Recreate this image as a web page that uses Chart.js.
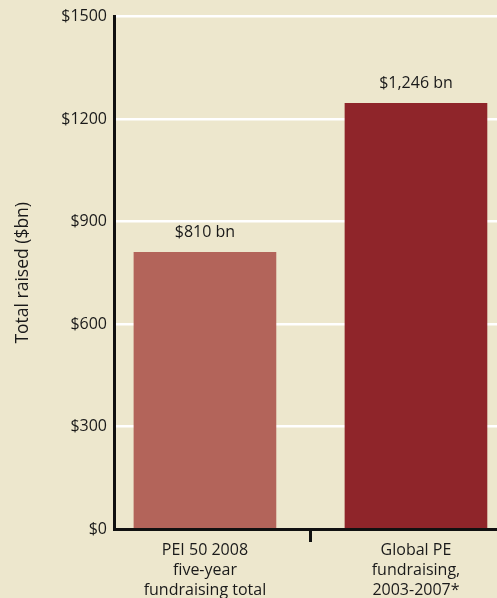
<!DOCTYPE html>
<html lang="en">
<head>
    <meta charset="UTF-8">
    <title>Total raised</title>
    <script src="https://cdn.jsdelivr.net/npm/chart.js"></script>
    <style>
        html, body { margin: 0; padding: 0; background: #ede7cd; overflow: hidden; }
        canvas { display: block; }
    </style>
</head>
<body>
    <canvas id="chart" width="497" height="598"></canvas>

    <script>
        // data
        const categories = [
            ['PEI 50 2008', 'five-year', 'fundraising total'],
            ['Global PE', 'fundraising,', '2003-2007*']
        ];
        const positions = [0, 1];
        const values = [810, 1246];
        const barColors = ['#b3645a', '#8f252a'];
        const yTicks = [0, 300, 600, 900, 1200, 1500];

        const textColor = '#1a1a1a';
        const tickFont = { family: 'Open Sans', size: 16 };

        function money(v) {
            return '$' + v.toLocaleString('en-US') + ' bn';
        }

        // value labels over the bars
        const barLabels = {
            id: 'barLabels',
            afterDatasetsDraw(chart) {
                const ctx = chart.ctx;
                const meta = chart.getDatasetMeta(0);
                ctx.save();
                ctx.font = '16px "Open Sans"';
                ctx.fillStyle = textColor;
                ctx.textAlign = 'center';
                ctx.textBaseline = 'middle';
                meta.data.forEach((bar, i) => {
                    ctx.fillText(money(values[i]), bar.x, bar.y - 20);
                });
                ctx.restore();
            }
        };

        const ctx = document.getElementById('chart').getContext('2d');
        new Chart(ctx, {
            type: 'bar',
            data: {
                datasets: [{
                    data: positions.map((x, i) => ({ x: x, y: values[i] })),
                    backgroundColor: barColors,
                    borderWidth: 0,
                    barThickness: 142
                }]
            },
            options: {
                responsive: false,
                animation: false,
                layout: { padding: { top: 15, right: 0, left: 0, bottom: 0 } },
                plugins: {
                    legend: { display: false },
                    tooltip: { enabled: false }
                },
                scales: {
                    x: {
                        type: 'linear',
                        offset: false,
                        min: -0.431,
                        max: 1.384,
                        afterBuildTicks: scale => {
                            scale.ticks = [0, 0.5, 1].map(v => ({ value: v }));
                        },
                        afterFit: scale => { scale.height = 69; },
                        grid: {
                            offset: false,
                            drawOnChartArea: false,
                            drawTicks: true,
                            tickLength: 13,
                            tickWidth: 3,
                            tickColor: c => (c.tick && c.tick.value === 0.5) ? '#111' : 'rgba(0,0,0,0)'
                        },
                        border: { display: true, color: '#111', width: 3 },
                        ticks: {
                            autoSkip: false,
                            maxRotation: 0,
                            padding: -2,
                            color: textColor,
                            font: { family: 'Open Sans', size: 16, lineHeight: 1.25 },
                            callback: v => {
                                const i = positions.indexOf(v);
                                return i >= 0 ? categories[i] : '';
                            }
                        }
                    },
                    y: {
                        min: 0,
                        max: 1500,
                        afterBuildTicks: scale => {
                            scale.ticks = yTicks.map(v => ({ value: v }));
                        },
                        afterFit: scale => { scale.width = 114; },
                        grid: {
                            color: '#ffffff',
                            lineWidth: 2.5,
                            drawTicks: false
                        },
                        border: { display: true, color: '#111', width: 3 },
                        ticks: {
                            padding: 7,
                            color: textColor,
                            font: tickFont,
                            callback: v => '$' + v
                        },
                        title: {
                            display: true,
                            text: 'Total raised ($bn)',
                            color: textColor,
                            font: { family: 'Open Sans', size: 17.5 },
                            padding: { top: 13, bottom: 0 }
                        }
                    }
                }
            },
            plugins: [barLabels]
        });
    </script>
</body>
</html>
